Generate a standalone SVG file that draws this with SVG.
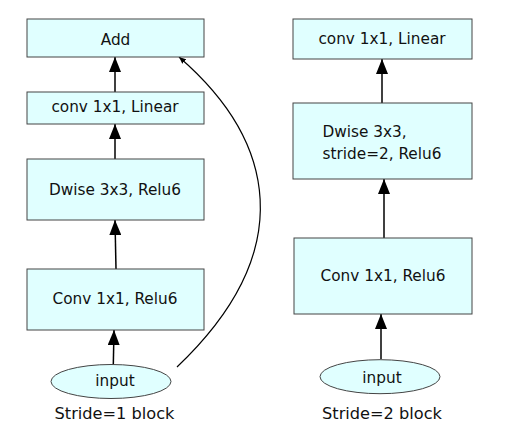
<svg xmlns="http://www.w3.org/2000/svg" width="507" height="443" viewBox="0 0 507 443">
<style>
.box{fill:#e0ffff;stroke:#444;stroke-width:1}
.t{font-family:"DejaVu Sans",sans-serif;font-size:15.3px;fill:#111;text-anchor:middle}
.cap{font-family:"DejaVu Sans",sans-serif;font-size:16.2px;fill:#111;text-anchor:middle}
.e{stroke:#000;stroke-width:1.5;fill:none}
</style>
<defs>
<marker id="ah" markerUnits="userSpaceOnUse" markerWidth="16" markerHeight="12" refX="15" refY="6" orient="auto">
<path d="M0,0 L15,6 L0,12 Z" fill="#000"/>
</marker>
<marker id="ahs" markerUnits="userSpaceOnUse" markerWidth="8" markerHeight="6" refX="7" refY="3" orient="auto">
<path d="M0,0 L7,3 L0,6 Z" fill="#000"/>
</marker>
</defs>
<rect width="507" height="443" fill="#fff"/>
<g id="connectors">
<line class="e" x1="113.3" y1="365" x2="114" y2="330" marker-end="url(#ah)"/>
<line class="e" x1="116" y1="269" x2="115" y2="220" marker-end="url(#ah)"/>
<line class="e" x1="115" y1="159" x2="115" y2="124" marker-end="url(#ah)"/>
<line class="e" x1="115" y1="92" x2="115" y2="57" marker-end="url(#ah)"/>
<path d="M177,367 C300,250 275,140 179,57" fill="none" stroke="#000" stroke-width="1.2" marker-end="url(#ahs)"/>
<line class="e" x1="381" y1="359" x2="381" y2="314" marker-end="url(#ah)"/>
<line class="e" x1="384" y1="238" x2="384" y2="179" marker-end="url(#ah)"/>
<line class="e" x1="382" y1="103" x2="382" y2="59" marker-end="url(#ah)"/>
</g>
<g id="add"><rect class="box" x="27" y="19" width="177" height="38"/><text class="t" x="115.5" y="45">Add</text></g>
<g id="conv-linear-1"><rect class="box" x="27" y="92" width="177" height="32"/><text class="t" x="115" y="112">conv 1x1, Linear</text></g>
<g id="dwise-1"><rect class="box" x="27" y="159" width="177" height="61"/><text class="t" x="115" y="194.5">Dwise 3x3, Relu6</text></g>
<g id="conv-relu-1"><rect class="box" x="27" y="269" width="177" height="61"/><text class="t" x="115" y="303.5">Conv 1x1, Relu6</text></g>
<g id="input-1"><ellipse class="box" cx="111" cy="381.5" rx="60" ry="17"/><text class="t" x="115" y="385.5">input</text></g>
<text class="cap" x="114.5" y="418.5">Stride=1 block</text>
<g id="conv-linear-2"><rect class="box" x="293" y="19" width="179" height="40"/><text class="t" x="382" y="43.5">conv 1x1, Linear</text></g>
<g id="dwise-2"><rect class="box" x="293" y="103" width="179" height="76"/><text class="t" x="322.5" y="136.7" style="text-anchor:start">Dwise 3x3,</text><text class="t" x="322.5" y="158.5" style="text-anchor:start">stride=2, Relu6</text></g>
<g id="conv-relu-2"><rect class="box" x="294" y="238" width="178" height="76"/><text class="t" x="383" y="281">Conv 1x1, Relu6</text></g>
<g id="input-2"><ellipse class="box" cx="380" cy="376.7" rx="60" ry="17"/><text class="t" x="382" y="383">input</text></g>
<text class="cap" x="382" y="418.5">Stride=2 block</text>
</svg>
